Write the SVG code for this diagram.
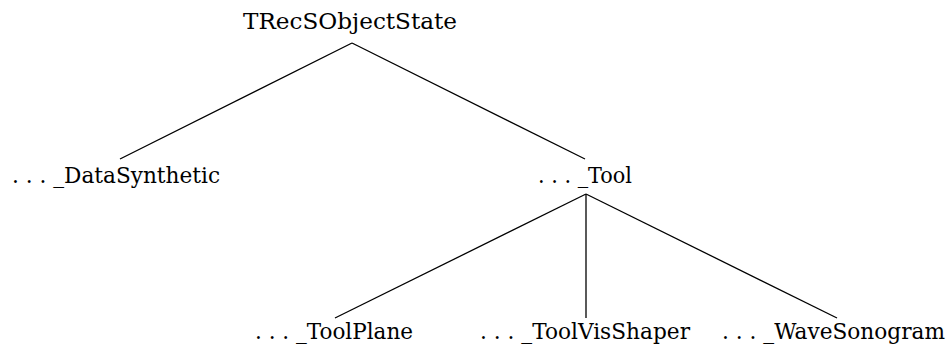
<svg xmlns="http://www.w3.org/2000/svg" width="951" height="347" viewBox="0 0 951 347">
<style>
text{font-family:'DejaVu Serif',serif;font-size:22px;fill:#000}
.c line{stroke:#000;stroke-width:1.3}
</style>
<rect width="951" height="347" fill="#fff"/>
<g class="c" id="connectors">
<line x1="352" y1="43" x2="120" y2="159"/>
<line x1="352" y1="43" x2="585" y2="159"/>
<line x1="586" y1="194" x2="335" y2="318"/>
<line x1="586" y1="194" x2="586" y2="318"/>
<line x1="586" y1="194" x2="837" y2="318"/>
</g>
<g id="n-root"><text x="243" y="29" textLength="214" lengthAdjust="spacingAndGlyphs">TRecSObjectState</text></g>
<g id="n-datasynthetic"><text x="12" y="183" textLength="208" lengthAdjust="spacingAndGlyphs">. . . _DataSynthetic</text></g>
<g id="n-tool"><text x="538" y="183" textLength="94" lengthAdjust="spacingAndGlyphs">. . . _Tool</text></g>
<g id="n-toolplane"><text x="255" y="339" textLength="158" lengthAdjust="spacingAndGlyphs">. . . _ToolPlane</text></g>
<g id="n-toolvisshaper"><text x="480" y="339" textLength="210" lengthAdjust="spacingAndGlyphs">. . . _ToolVisShaper</text></g>
<g id="n-wavesonogram"><text x="722" y="339" textLength="223" lengthAdjust="spacingAndGlyphs">. . . _WaveSonogram</text></g>
</svg>
